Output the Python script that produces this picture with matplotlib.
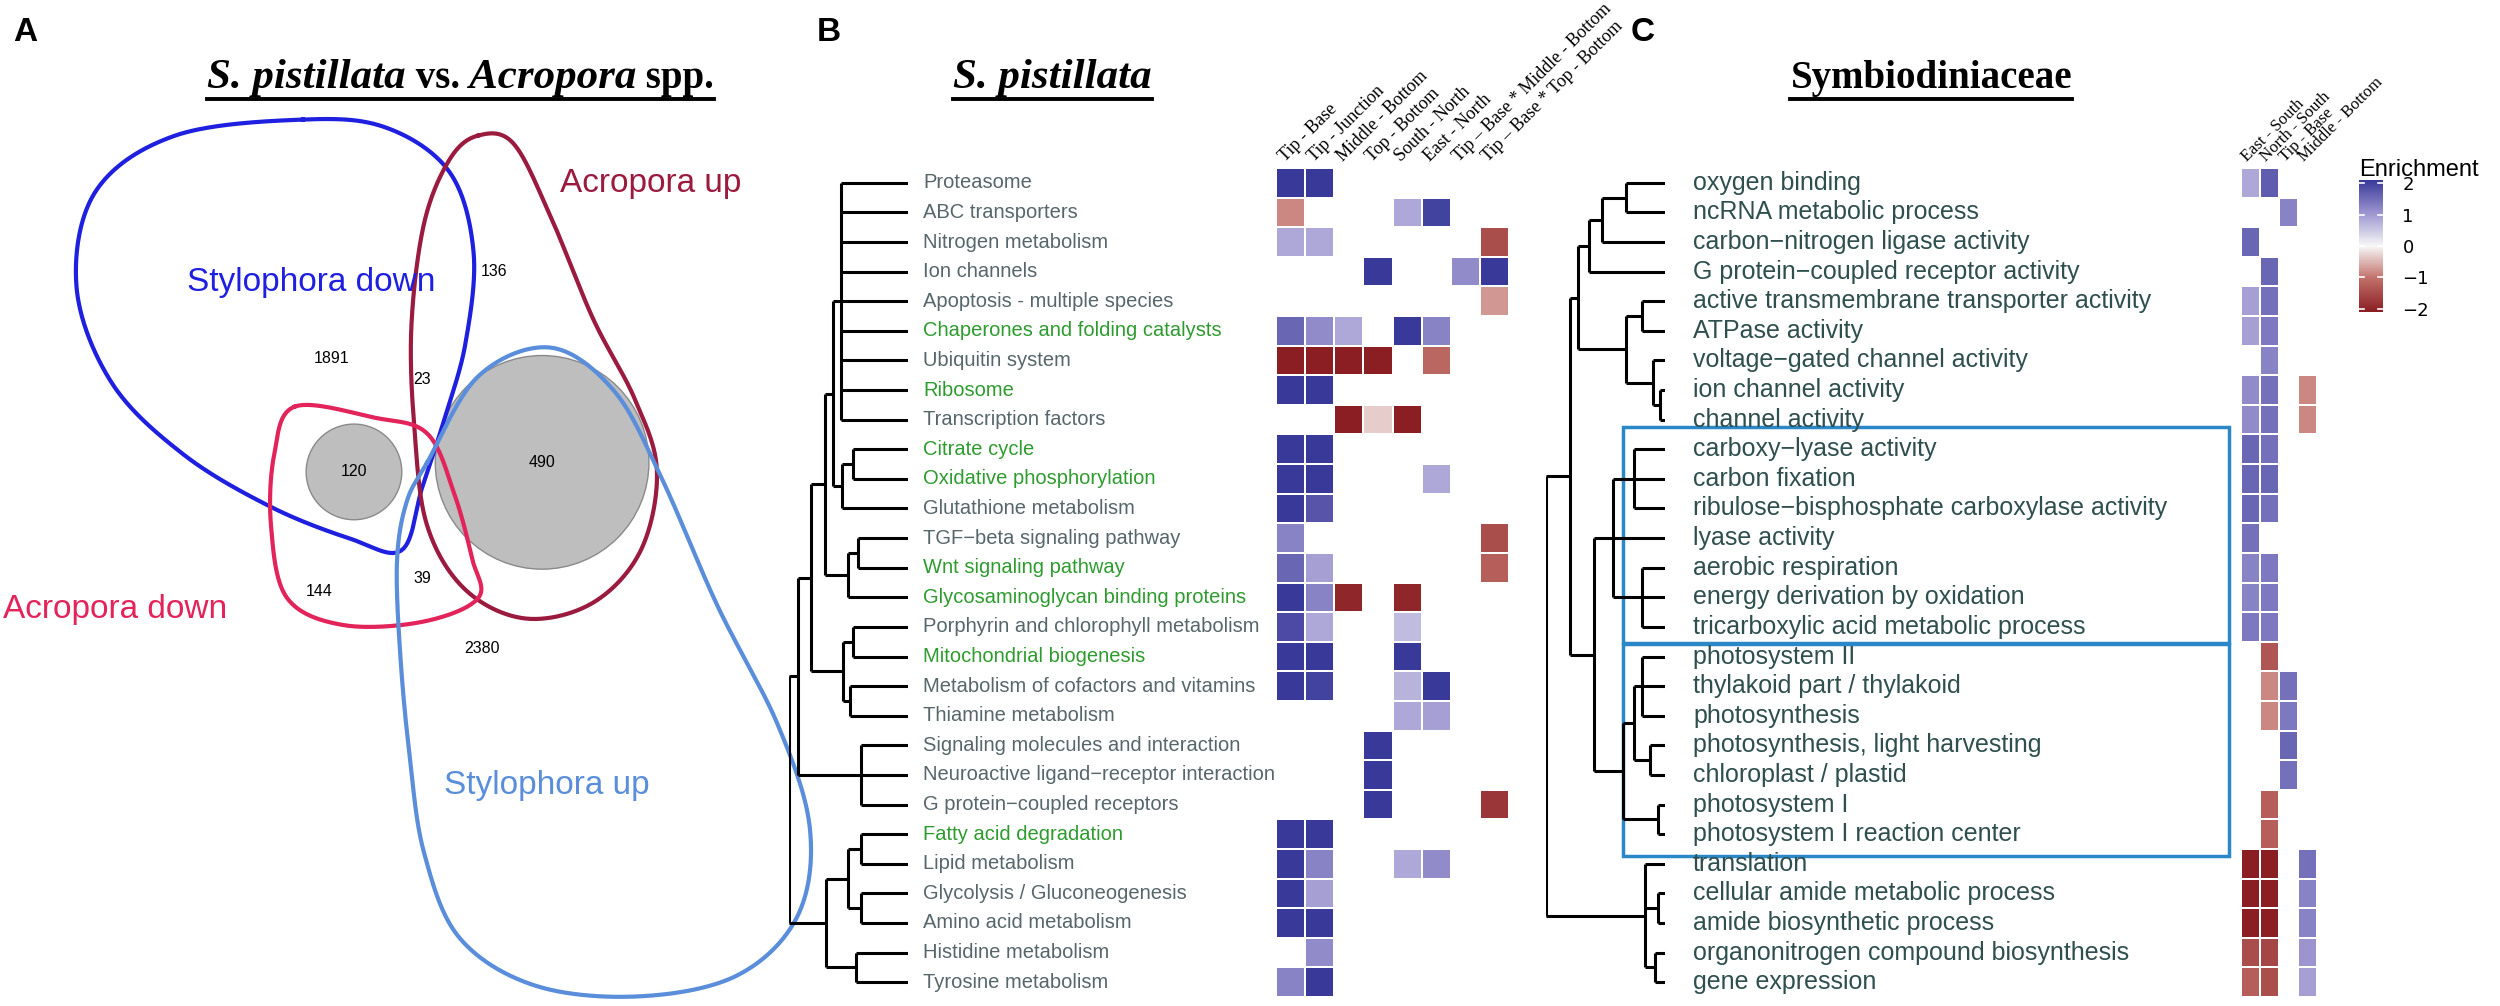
import numpy as np
import matplotlib
matplotlib.use('Agg')
import matplotlib.pyplot as plt
from matplotlib.colors import LinearSegmentedColormap, Normalize
from matplotlib import transforms
from matplotlib.patches import Circle, Rectangle
from matplotlib.lines import Line2D
from matplotlib.transforms import Bbox
import matplotlib.colorbar as mcolorbar

nan = np.nan

# ---------------- Painel A (Venn) ----------------
venn_sets = ['Stylophora down', 'Acropora up', 'Acropora down', 'Stylophora up']
venn_colors = ['#1f1fe0', '#9b1b3f', '#e3245a', '#5a8edb']
venn_counts = [1891, 136, 23, 490, 120, 144, 39, 2380]

# ---------------- Painel B (S. pistillata) ----------------
b_terms = ['Proteasome', 'ABC transporters', 'Nitrogen metabolism', 'Ion channels',
           'Apoptosis - multiple species', 'Chaperones and folding catalysts', 'Ubiquitin system',
           'Ribosome', 'Transcription factors', 'Citrate cycle', 'Oxidative phosphorylation',
           'Glutathione metabolism', 'TGF\u2212beta signaling pathway', 'Wnt signaling pathway',
           'Glycosaminoglycan binding proteins', 'Porphyrin and chlorophyll metabolism',
           'Mitochondrial biogenesis', 'Metabolism of cofactors and vitamins', 'Thiamine metabolism',
           'Signaling molecules and interaction', 'Neuroactive ligand\u2212receptor interaction',
           'G protein\u2212coupled receptors', 'Fatty acid degradation', 'Lipid metabolism',
           'Glycolysis / Gluconeogenesis', 'Amino acid metabolism', 'Histidine metabolism',
           'Tyrosine metabolism']
b_green = ['Chaperones and folding catalysts', 'Ribosome', 'Citrate cycle', 'Oxidative phosphorylation',
           'Wnt signaling pathway', 'Glycosaminoglycan binding proteins', 'Mitochondrial biogenesis',
           'Fatty acid degradation']
b_cols = ['Tip - Base', 'Tip - Junction', 'Middle - Bottom', 'Top - Bottom', 'South - North',
          'East - North', 'Tip \u2013 Base * Middle - Bottom', 'Tip \u2013 Base * Top - Bottom']
b_vals = [
    [2, 2, nan, nan, nan, nan, nan, nan],
    [-0.8, nan, nan, nan, 0.8, 1.9, nan, nan],
    [0.8, 0.8, nan, nan, nan, nan, nan, -1.4],
    [nan, nan, nan, 2, nan, nan, 1.1, 2],
    [nan, nan, nan, nan, nan, nan, nan, -0.7],
    [1.5, 1.1, 0.8, nan, 2, 1.2, nan, nan],
    [-2, -2, -2, -2, nan, -1.1, nan, nan],
    [2, 2, nan, nan, nan, nan, nan, nan],
    [nan, nan, -2, -0.3, -2, nan, nan, nan],
    [2, 2, nan, nan, nan, nan, nan, nan],
    [2, 2, nan, nan, nan, 0.8, nan, nan],
    [2, 1.7, nan, nan, nan, nan, nan, nan],
    [1.2, nan, nan, nan, nan, nan, nan, -1.4],
    [1.5, 0.9, nan, nan, nan, nan, nan, -1.2],
    [2, 1.2, -1.9, nan, -1.9, nan, nan, nan],
    [1.8, 0.8, nan, nan, 0.6, nan, nan, nan],
    [2, 2, nan, nan, 2, nan, nan, nan],
    [2, 1.9, nan, nan, 0.7, 2, nan, nan],
    [nan, nan, nan, nan, 0.8, 0.9, nan, nan],
    [nan, nan, nan, 2, nan, nan, nan, nan],
    [nan, nan, nan, 2, nan, nan, nan, nan],
    [nan, nan, nan, 2, nan, nan, nan, -1.7],
    [2, 2, nan, nan, nan, nan, nan, nan],
    [2, 1.2, nan, nan, 0.8, 1.1, nan, nan],
    [2, 0.9, nan, nan, nan, nan, nan, nan],
    [2, 2, nan, nan, nan, nan, nan, nan],
    [nan, 1.1, nan, nan, nan, nan, nan, nan],
    [1.2, 2, nan, nan, nan, nan, nan, nan],
]
# arvore (altura, filhos); folhas = indice da linha
tree_b = (119, [
    (110, [
        (97, [
            (83, [
                (75, [(67, [0, 1, 2, 3, 4, 5, 6, 7, 8]), (66, [(55, [9, 10]), 11])]),
                (60, [(50, [12, 13]), 14])]),
            (65, [(55, [15, 16]), (58, [17, 18])])]),
        (47, [19, 20, 21])]),
    (82, [(60, [(47, [22, 23]), (47, [24, 25])]), (52, [26, 27])]),
])

# ---------------- Painel C (Symbiodiniaceae) ----------------
c_terms = ['oxygen binding', 'ncRNA metabolic process', 'carbon\u2212nitrogen ligase activity',
           'G protein\u2212coupled receptor activity', 'active transmembrane transporter activity',
           'ATPase activity', 'voltage\u2212gated channel activity', 'ion channel activity',
           'channel activity', 'carboxy\u2212lyase activity', 'carbon fixation',
           'ribulose\u2212bisphosphate carboxylase activity', 'lyase activity', 'aerobic respiration',
           'energy derivation by oxidation', 'tricarboxylic acid metabolic process', 'photosystem II',
           'thylakoid part / thylakoid', 'photosynthesis', 'photosynthesis, light harvesting',
           'chloroplast / plastid', 'photosystem I', 'photosystem I reaction center', 'translation',
           'cellular amide metabolic process', 'amide biosynthetic process',
           'organonitrogen compound biosynthesis', 'gene expression']
c_cols = ['East - South', 'North - South', 'Tip - Base', 'Middle - Bottom']
c_vals = [
    [0.8, 1.6, nan, nan],
    [nan, nan, 1.2, nan],
    [1.5, nan, nan, nan],
    [nan, 1.5, nan, nan],
    [0.9, 1.4, nan, nan],
    [0.9, 1.3, nan, nan],
    [nan, 1.2, nan, nan],
    [1.1, 1.4, nan, -0.8],
    [1.1, 1.4, nan, -0.8],
    [1.5, 1.4, nan, nan],
    [1.5, 1.5, nan, nan],
    [1.5, 1.4, nan, nan],
    [1.4, nan, nan, nan],
    [1.2, 1.3, nan, nan],
    [1.2, 1.3, nan, nan],
    [1.3, 1.3, nan, nan],
    [nan, -1.3, nan, nan],
    [nan, -0.8, 1.4, nan],
    [nan, -0.8, 1.3, nan],
    [nan, nan, 1.5, nan],
    [nan, nan, 1.4, nan],
    [nan, -1.2, nan, nan],
    [nan, -1.2, nan, nan],
    [-2, -2, nan, 1.4],
    [-2, -2, nan, 1.2],
    [-2, -2, nan, 1.2],
    [-1.4, -1.5, nan, 1.0],
    [-1.2, -1.4, nan, 0.9],
]
tree_c = (119, [
    (95, [
        (87, [(76, [(63, [(39, [0, 1]), 2]), 3]),
              (39, [(23, [4, 5]), (12, [6, (5, [7, 8])])])]),
        (71, [(52, [(31, [9, 10, 11]), 12, (23, [13, 14, 15])]),
              (42, [(31, [(23, [16, 17, 18]), (15, [19, 20])]), (7, [21, 22])])]),
    ]),
    (20, [23, (7, [24, 25]), (10, [26, 27])]),
])

W, H = 2500, 1006
S = W / 1568.0  # escala entre coordenadas "de tela" e pixels

cmap = LinearSegmentedColormap.from_list(
    'enr', ['#8a1e23', '#c06e68', '#f7f7f7', '#9c95cf', '#39399a'])

fig = plt.figure(figsize=(25, 10.06), dpi=100)
bg = fig.add_axes([0, 0, 1, 1])
bg.set_xlim(0, 1568)
bg.set_ylim(631, 0)
bg.axis('off')


def px_axes(x0, x1, y0, y1):
    return fig.add_axes([x0 / W, 1 - y1 / H, (x1 - x0) / W, (y1 - y0) / H])


def closed_curve(pts, n=40):
    p = np.array(pts, float)
    m = len(p)
    t = np.linspace(0, 1, n, endpoint=False)[:, None]
    out = []
    for i in range(m):
        p0, p1, p2, p3 = p[i - 1], p[i], p[(i + 1) % m], p[(i + 2) % m]
        out.append(0.5 * (2 * p1 + (-p0 + p2) * t + (2 * p0 - 5 * p1 + 4 * p2 - p3) * t ** 2
                          + (-p0 + 3 * p1 - 3 * p2 + p3) * t ** 3))
    out = np.vstack(out)
    return np.vstack([out, out[:1]])


def draw_tree(ax, node):
    if isinstance(node, int):
        return node, 0
    h, kids = node
    res = [draw_tree(ax, k) for k in kids]
    ys = [r[0] for r in res]
    ax.plot([h, h], [min(ys), max(ys)], color='black', lw=2.2, solid_capstyle='butt')
    for y, ch in res:
        ax.plot([ch, h], [y, y], color='black', lw=2.2, solid_capstyle='butt')
    return (min(ys) + max(ys)) / 2, h


# ---------- Venn ----------
shapes = {
    'Stylophora down': [(190, 75), (242, 80), (282, 108), (297, 158), (292, 215), (279, 262),
                        (265, 305), (252, 345), (220, 338), (170, 318), (115, 285), (70, 240),
                        (48, 180), (60, 120), (110, 85)],
    'Acropora up': [(300, 85), (322, 90), (345, 135), (372, 200), (398, 250), (412, 295),
                    (402, 345), (372, 378), (330, 388), (292, 370), (268, 330), (260, 270),
                    (258, 205), (266, 140), (282, 100)],
    'Acropora down': [(185, 255), (235, 262), (268, 272), (285, 310), (296, 350), (300, 375),
                      (265, 390), (215, 392), (180, 375), (170, 330), (172, 285)],
    'Stylophora up': [(268, 290), (300, 236), (345, 218), (385, 245), (415, 300), (450, 380),
                      (488, 455), (508, 520), (500, 575), (462, 612), (400, 625), (335, 618),
                      (288, 588), (266, 535), (257, 475), (251, 410), (249, 352), (255, 315)],
}
label_pos = {'Stylophora down': (195, 177), 'Acropora up': (408, 115),
             'Acropora down': (72, 382), 'Stylophora up': (343, 493)}
count_pos = [(208, 225), (310, 170), (265, 238), (340, 290), (222, 296), (200, 371),
             (265, 363), (302, 407)]

bg.add_patch(Circle((340, 290), 67, facecolor='#bebebe', edgecolor='#8a8a8a', lw=1, zorder=1))
bg.add_patch(Circle((222, 296), 30, facecolor='#bebebe', edgecolor='#8a8a8a', lw=1, zorder=1))
for name, col in zip(venn_sets, venn_colors):
    c = closed_curve(shapes[name])
    bg.plot(c[:, 0], c[:, 1], color=col, lw=3, zorder=2)
    bg.text(*label_pos[name], name, color=col, fontsize=24, ha='center', va='center',
            family='Liberation Sans', zorder=3)
for n, (x, y) in zip(venn_counts, count_pos):
    bg.text(x, y, str(n), fontsize=11.5, ha='center', va='center', family='Liberation Sans', zorder=3)

# ---------- Heatmap B ----------
axB = px_axes(1276, 1509, 168, 997)
axB.pcolormesh(np.arange(len(b_cols) + 1) - 0.5, np.arange(len(b_terms) + 1) - 0.5,
               np.ma.masked_invalid(np.array(b_vals, float)), cmap=cmap, vmin=-2, vmax=2,
               edgecolors='white', linewidth=1.2)
axB.set_xlim(-0.5, len(b_cols) - 0.5)
axB.set_ylim(len(b_terms) - 0.5, -0.5)
axB.axis('off')
for j, lab in enumerate(b_cols):
    axB.text(j - 0.2, -0.7, lab, rotation=45, rotation_mode='anchor', ha='left', va='baseline',
             fontsize=13, family='Liberation Serif', clip_on=False)
trB = transforms.blended_transform_factory(fig.transFigure, axB.transData)
for i, lab in enumerate(b_terms):
    axB.text(923 / W, i, lab, transform=trB, ha='left', va='center', fontsize=14.5,
             family='Liberation Sans', color='#2e9b2e' if lab in b_green else '#56666a')

axDB = px_axes(789, 908, 168, 997)
draw_tree(axDB, tree_b)
axDB.set_xlim(tree_b[0], 0)
axDB.set_ylim(len(b_terms) - 0.5, -0.5)
axDB.axis('off')

# ---------- Heatmap C ----------
axC = px_axes(2241, 2317, 168, 997)
axC.pcolormesh(np.arange(len(c_cols) + 1) - 0.5, np.arange(len(c_terms) + 1) - 0.5,
               np.ma.masked_invalid(np.array(c_vals, float)), cmap=cmap, vmin=-2, vmax=2,
               edgecolors='white', linewidth=1.2)
axC.set_xlim(-0.5, len(c_cols) - 0.5)
axC.set_ylim(len(c_terms) - 0.5, -0.5)
axC.axis('off')
for j, lab in enumerate(c_cols):
    axC.text(j - 0.2, -0.7, lab, rotation=45, rotation_mode='anchor', ha='left', va='baseline',
             fontsize=12, family='Liberation Serif', clip_on=False)
trC = transforms.blended_transform_factory(fig.transFigure, axC.transData)
for i, lab in enumerate(c_terms):
    axC.text(1693 / W, i, lab, transform=trC, ha='left', va='center', fontsize=18,
             family='Liberation Sans', color='#2f4f4f')

axDC = px_axes(1546, 1665, 168, 997)
draw_tree(axDC, tree_c)
axDC.set_xlim(tree_c[0], 0)
axDC.set_ylim(len(c_terms) - 0.5, -0.5)
axDC.axis('off')

# caixas azuis
bg.add_patch(Rectangle((1018, 268), 380, 135, fill=False, edgecolor='#2b88c8', lw=2.5))
bg.add_patch(Rectangle((1018, 404), 380, 133, fill=False, edgecolor='#2b88c8', lw=2.5))

# legenda de cor
cax = px_axes(2359, 2383, 180, 312)
cb = mcolorbar.ColorbarBase(cax, cmap=cmap, norm=Normalize(-2.1, 2.1))
cb.outline.set_visible(False)
cb.set_ticks([-2, -1, 0, 1, 2])
cb.set_ticklabels(['\u22122', '\u22121', '0', '1', '2'])
cax.tick_params(length=0, labelsize=13, pad=14)
for v in [-2, -1, 0, 1, 2]:
    cax.plot([0, 0.2], [v, v], color='white', lw=1.2, transform=cax.get_yaxis_transform())
    cax.plot([0.8, 1], [v, v], color='white', lw=1.2, transform=cax.get_yaxis_transform())
bg.text(2359 / S, 170 / S, 'Enrichment', fontsize=17, va='center', ha='left', family='Liberation Sans')

# letras dos paineis
for lab, x in [('A', 8), ('B', 512), ('C', 1023)]:
    bg.text(x, 26, lab, fontsize=24, fontweight='bold', family='Liberation Sans', va='baseline')

# titulos
title_sets = [
    (130, [('S. pistillata', 'italic'), (' vs.', 'normal'), (' Acropora', 'italic'), (' spp.', 'normal')]),
    (598, [('S. pistillata', 'italic')]),
    (1123, [('Symbiodiniaceae', 'normal')]),
]
title_groups = []
for x0, parts in title_sets:
    prev = None
    group = []
    for s, st in parts:
        kw = dict(fontsize=31 if st == 'italic' else 28, fontweight='bold', fontstyle=st,
                  family='Liberation Serif', ha='left', va='baseline')
        if prev is None:
            t = bg.text(x0, 55, s, **kw)
        else:
            t = bg.annotate(s, xy=(1, 55), xycoords=(prev, 'data'), **kw)
        group.append(t)
        prev = t
    title_groups.append(group)

fig.canvas.draw()
r = fig.canvas.get_renderer()
base = bg.transData.transform((0, 55))[1]
for group in title_groups:
    bb = Bbox.union([t.get_window_extent(r) for t in group])
    y = (base - 11) / H
    fig.add_artist(Line2D([bb.x0 / W, bb.x1 / W], [y, y], color='black', lw=2.8))

fig.savefig('out.png', dpi=100)
